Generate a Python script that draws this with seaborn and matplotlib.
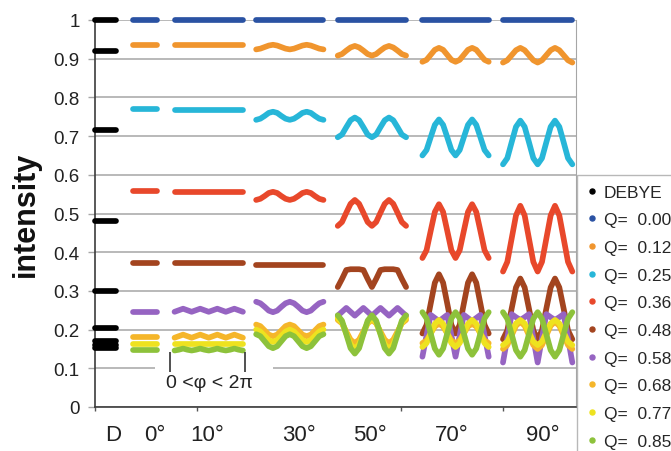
import numpy as np
import pandas as pd
import matplotlib
matplotlib.use("Agg")
import matplotlib.pyplot as plt
import seaborn as sns
from matplotlib.lines import Line2D
from matplotlib.patches import Rectangle

# ---------------- data ----------------
series_names = ["DEBYE", "Q=  0.00", "Q=  0.12", "Q=  0.25", "Q=  0.36",
                "Q=  0.48", "Q=  0.58", "Q=  0.68", "Q=  0.77", "Q=  0.85"]
series_colors = ["#000000", "#2a52a3", "#f0952e", "#27b6d8", "#e8482b",
                 "#a3441f", "#9664c2", "#f5b62a", "#eee21f", "#8dc23b"]
segment_labels = ["D", "0°", "10°", "30°", "50°", "70°", "90°"]

# Debye values (one dash each)
debye = [1.000, 0.920, 0.715, 0.480, 0.300, 0.205, 0.170, 0.160, 0.152]

# 0 deg: constant over phi
deg0 = [1.000, 0.935, 0.771, 0.557, 0.373, 0.246, 0.180, 0.163, 0.147]

# 10 deg .. 90 deg: intensity vs phi (0..2pi), rows = Q series
deg10 = [
    [1.000, 1.000],
    [0.935, 0.935],
    [0.767, 0.767],
    [0.556, 0.556],
    [0.373, 0.373],
    [.246, .250, .254, .250, .246, .250, .254, .250, .246, .250, .254, .250, .246, .250, .254, .250, .246],
    [.179, .183, .187, .183, .179, .183, .187, .183, .179, .183, .187, .183, .179, .183, .187, .183, .179],
    [0.163, 0.163],
    [.146, .148, .151, .148, .146, .148, .151, .148, .146, .148, .151, .148, .146, .148, .151, .148, .146],
]
deg30 = [
    [1.000, 1.000],
    [.924, .926, .930, .934, .936, .934, .930, .926, .924, .926, .930, .934, .936, .934, .930, .926, .924],
    [.742, .745, .752, .760, .763, .760, .752, .745, .742, .745, .752, .760, .763, .760, .752, .745, .742],
    [.535, .538, .545, .553, .556, .553, .545, .538, .535, .538, .545, .553, .556, .553, .545, .538, .535],
    [0.368, 0.368],
    [.272, .268, .259, .249, .245, .249, .259, .268, .272, .268, .259, .249, .245, .249, .259, .268, .272],
    [.213, .209, .198, .187, .183, .187, .198, .209, .213, .209, .198, .187, .183, .187, .198, .209, .213],
    [.200, .195, .184, .173, .168, .173, .184, .195, .200, .195, .184, .173, .168, .173, .184, .195, .200],
    [.188, .183, .170, .157, .152, .157, .170, .183, .188, .183, .170, .157, .152, .157, .170, .183, .188],
]
deg50 = [
    [1.000, 1.000],
    [.908, .912, .921, .929, .933, .929, .921, .912, .908, .912, .921, .929, .933, .929, .921, .912, .908],
    [.697, .704, .723, .741, .748, .741, .723, .704, .697, .704, .723, .741, .748, .741, .723, .704, .697],
    [.468, .478, .502, .525, .535, .525, .502, .478, .468, .478, .502, .525, .535, .525, .502, .478, .468],
    [.310, .331, .354, .356, .356, .356, .354, .331, .310, .331, .354, .356, .356, .356, .354, .331, .310],
    [.236, .246, .256, .246, .236, .246, .256, .246, .236, .246, .256, .246, .236, .246, .256, .246, .236],
    [.225, .216, .195, .174, .165, .174, .195, .216, .225, .216, .195, .174, .165, .174, .195, .216, .225],
    [.230, .218, .190, .162, .150, .162, .190, .218, .230, .218, .190, .162, .150, .162, .190, .218, .230],
    [.237, .223, .188, .152, .138, .152, .188, .223, .237, .223, .188, .152, .138, .152, .188, .223, .237],
]
deg70 = [
    [1.000, 1.000],
    [.892, .897, .910, .923, .928, .923, .910, .897, .892, .897, .910, .923, .928, .923, .910, .897, .892],
    [.650, .664, .697, .729, .743, .729, .697, .664, .650, .664, .697, .729, .743, .729, .697, .664, .650],
    [.385, .405, .455, .504, .524, .504, .455, .405, .385, .405, .455, .504, .524, .504, .455, .405, .385],
    [.190, .212, .267, .321, .343, .321, .267, .212, .190, .212, .267, .321, .343, .321, .267, .212, .190],
    [.130, .185, .238, .230, .222, .230, .238, .185, .130, .185, .238, .230, .222, .230, .238, .185, .130],
    [.165, .172, .190, .208, .215, .208, .190, .172, .165, .172, .190, .208, .215, .208, .190, .172, .165],
    [.155, .165, .190, .215, .225, .215, .190, .165, .155, .165, .190, .215, .225, .215, .190, .165, .155],
    [.245, .229, .190, .151, .135, .151, .190, .229, .245, .229, .190, .151, .135, .151, .190, .229, .245],
]
deg90 = [
    [1.000, 1.000],
    [.890, .896, .909, .922, .928, .922, .909, .896, .890, .896, .909, .922, .928, .922, .909, .896, .890],
    [.627, .643, .684, .724, .740, .724, .684, .643, .627, .643, .684, .724, .740, .724, .684, .643, .627],
    [.350, .375, .435, .495, .520, .495, .435, .375, .350, .375, .435, .495, .520, .495, .435, .375, .350],
    [.175, .198, .254, .309, .332, .309, .254, .198, .175, .198, .254, .309, .332, .309, .254, .198, .175],
    [.115, .178, .240, .232, .225, .232, .240, .178, .115, .178, .240, .232, .225, .232, .240, .178, .115],
    [.150, .160, .185, .210, .220, .210, .185, .160, .150, .160, .185, .210, .220, .210, .185, .160, .150],
    [.160, .169, .193, .216, .225, .216, .193, .169, .160, .169, .193, .216, .225, .216, .193, .169, .160],
    [.245, .228, .188, .147, .130, .147, .188, .228, .245, .228, .188, .147, .130, .147, .188, .228, .245],
]

# ---------------- layout (segment spans on the x axis) ----------------
seg_span = {"D": (0.0, 0.21), "0°": (0.37, 0.61), "10°": (0.78, 1.45),
            "30°": (1.58, 2.24), "50°": (2.38, 3.05), "70°": (3.21, 3.86),
            "90°": (4.0, 4.68)}
label_pos = [0.176, 0.59, 1.10, 2.00, 2.70, 3.50, 4.39]

records = []
def add(seg, name, idx, vals):
    vals = list(vals) if isinstance(vals, (list, tuple)) else [vals, vals]
    x0, x1 = seg_span[seg]
    xs = np.linspace(x0, x1, len(vals))
    for x, v in zip(xs, vals):
        records.append({"x": x, "v": v, "series": name, "unit": f"{seg}-{idx}"})

for i, v in enumerate(debye):
    add("D", "DEBYE", i, v)
for seg, rows in [("0°", deg0), ("10°", deg10), ("30°", deg30),
                  ("50°", deg50), ("70°", deg70), ("90°", deg90)]:
    for i, vals in enumerate(rows):
        add(seg, series_names[i + 1], i, vals)

df = pd.DataFrame(records)

# ---------------- plot ----------------
sns.set_style("white")
plt.rcParams["font.family"] = ["Liberation Sans", "DejaVu Sans"]

fig = plt.figure(figsize=(6.71, 4.52), dpi=100)
ax = fig.add_axes([95 / 671, 1 - 408 / 452, 481 / 671, 387 / 452])

palette = dict(zip(series_names, series_colors))
sns.lineplot(data=df, x="x", y="v", hue="series", units="unit", estimator=None,
             sort=False, palette=palette, hue_order=series_names, lw=4.1,
             solid_capstyle="round", solid_joinstyle="round", legend=False, ax=ax,
             clip_on=False, zorder=3)

ax.set_xlim(0, 4.716)
ax.set_ylim(0, 1)
ax.set_yticks(np.arange(0, 1.01, 0.1))
ax.set_yticklabels(["0", "0.1", "0.2", "0.3", "0.4", "0.5", "0.6", "0.7", "0.8", "0.9", "1"],
                   fontsize=13.5, color="#222222")
ax.tick_params(axis="y", direction="out", length=5, width=1, color="#a6a6a6", pad=6, left=True)
ax.yaxis.grid(True, color="#a6a6a6", lw=1.1)
ax.xaxis.grid(False)
ax.set_axisbelow(True)

ax.set_xticks(label_pos)
ax.set_xticklabels(segment_labels, fontsize=16, color="#222222")
ax.tick_params(axis="x", which="major", length=0, pad=12)
ax.set_xticks([0, 1, 2, 3, 4], minor=True)
ax.tick_params(axis="x", which="minor", direction="out", length=3, width=1, color="#555555", bottom=True)

for s in ["left", "bottom"]:
    ax.spines[s].set_color("#3c3c3c")
    ax.spines[s].set_linewidth(1.2)
ax.spines["right"].set_color("#a6a6a6")
ax.spines["top"].set_visible(False)

ax.set_xlabel("")
ax.set_ylabel("intensity", fontsize=22, fontweight="bold", color="#111111")
ax.yaxis.set_label_coords(-0.112, 0.5)

# annotation "0 < phi < 2 pi"
ax.add_patch(Rectangle((0.59, 0.03), 1.155, 0.095, facecolor="white", edgecolor="none", zorder=1))
ax.vlines([0.735, 1.47], 0.09, 0.142, color="#333333", lw=1.2, zorder=4)
ax.text(1.12, 0.064, "0 <φ < 2π", fontsize=14, ha="center", va="center", color="#222222", zorder=4)

# legend (partly outside the figure, as in the original)
handles = [Line2D([], [], ls="", marker="o", markersize=3.6, color=c) for c in series_colors]
leg = ax.legend(handles, series_names, loc="upper left",
                bbox_to_anchor=(577 / 671, 1 - 176 / 452), bbox_transform=fig.transFigure,
                frameon=True, fancybox=False, edgecolor="#a6a6a6", fontsize=12.5,
                labelspacing=0.72, handlelength=0.6, handletextpad=0.4,
                borderpad=0.55, borderaxespad=0)
leg.get_frame().set_linewidth(1.0)

fig.savefig("out.png", dpi=100)
